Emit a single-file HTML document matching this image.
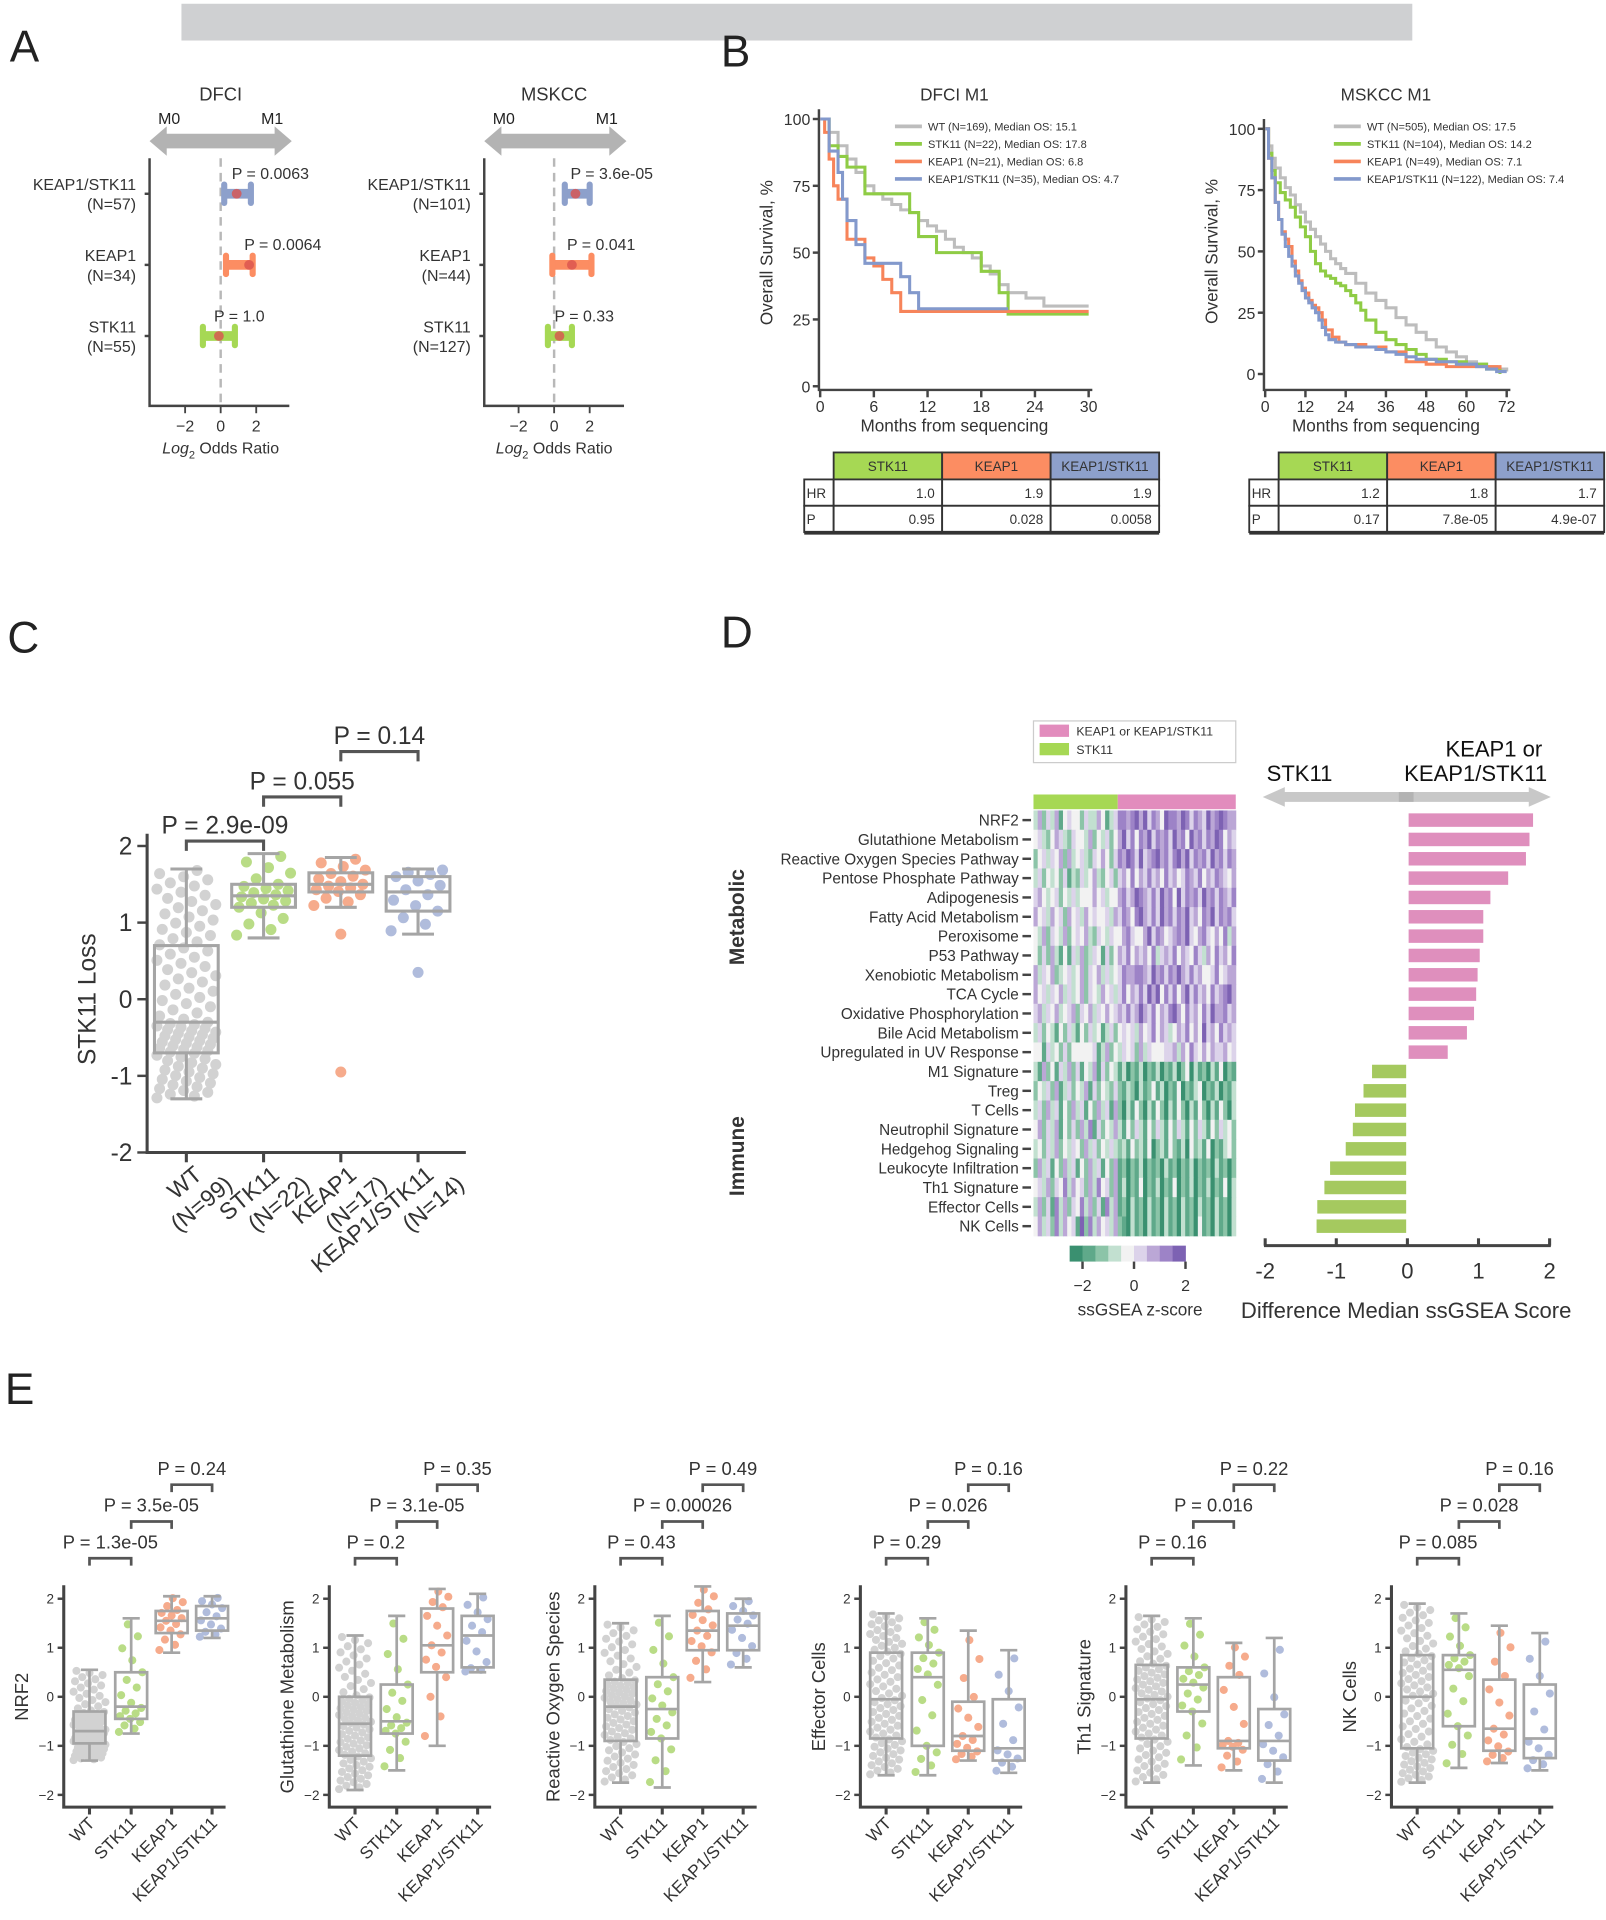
<!DOCTYPE html>
<html><head><meta charset="utf-8">
<style>
html,body{margin:0;padding:0;background:#fff;}
svg{display:block;font-family:"Liberation Sans",Arial,sans-serif;}
</style></head>
<body>
<svg id="fig" width="1606" height="1920" viewBox="0 0 1310 1566" xmlns="http://www.w3.org/2000/svg">
<rect x="0" y="0" width="1310" height="1566" fill="#fff"/>
<rect x="148" y="3" width="1004" height="30" fill="#cfd0d2"/>
<text x="8" y="50" font-size="36" fill="#222">A</text>
<text x="588" y="54" font-size="36" fill="#222">B</text>
<text x="6" y="532" font-size="36" fill="#222">C</text>
<text x="588" y="528" font-size="36" fill="#222">D</text>
<text x="4" y="1145" font-size="36" fill="#222">E</text>
</svg>
<script>
// ---------- DATA ----------
const forestRows=['KEAP1/STK11','KEAP1','STK11'];
const dfciN=['(N=57)','(N=34)','(N=55)'];
const dfciLo=[0.2,0.3,-1.0];
const dfciEst=[0.9,1.6,-0.1];
const dfciHi=[1.7,1.8,0.8];
const dfciP=['P = 0.0063','P = 0.0064','P = 1.0'];
const mskN=['(N=101)','(N=44)','(N=127)'];
const mskLo=[0.6,-0.1,-0.35];
const mskEst=[1.2,1.0,0.3];
const mskHi=[2.0,2.1,1.0];
const mskP=['P = 3.6e-05','P = 0.041','P = 0.33'];

const kmGroups=['WT','STK11','KEAP1','KEAP1/STK11'];
const dfciLegend=['WT (N=169), Median OS: 15.1','STK11 (N=22), Median OS: 17.8','KEAP1 (N=21), Median OS: 6.8','KEAP1/STK11 (N=35), Median OS: 4.7'];
const mskLegend=['WT (N=505), Median OS: 17.5','STK11 (N=104), Median OS: 14.2','KEAP1 (N=49), Median OS: 7.1','KEAP1/STK11 (N=122), Median OS: 7.4'];
const dfciWT_t=[0,1,2,3,4,5,6,7,8,9,10,11,12,13,14,15,16,17,18,19,20,21,23,25,30];
const dfciWT_s=[100,95,90,85,80,75,72,70,68,66,65,62,60,58,55,52,50,48,45,42,38,35,33,30,30];
const dfciS_t=[0,1,2,3,5,8,10,11,13,17,18,20,21,30];
const dfciS_s=[100,90,86,82,72,72,65,56,50,50,43,35,27,27];
const dfciK_t=[0,0.5,1,1.5,2,3,5,6,7,8,9,30];
const dfciK_s=[100,95,85,75,70,55,48,45,40,35,28,28];
const dfciKS_t=[0,1,2,2.5,3,4,5,8,9,10,11,21];
const dfciKS_s=[100,88,80,70,62,53,46,46,41,35,29,29];
const mskWT_t=[0,1,2,3,4.5,6,7.5,9,10.5,12,13.5,15,16.5,18,19.5,21,22.5,24,27,30,33,36,39,42,45,48,51,54,57,60,63,66,69,72];
const mskWT_s=[100,93,88,84,80,76,73,69,66,62,59,56,53,50,47,45,43,41,37,33,30,27,23,20,17,14,11,9,7,5,4,3,2,1];
const mskS_t=[0,1,2,3,4.5,6,7.5,9,10.5,12,13.5,15,16.5,18,19.5,21,22.5,24,25.5,27,28.5,30,33,36,39,42,45,48,54,60,66,70];
const mskS_s=[100,90,83,78,74,71,68,64,60,56,50,45,42,40,39,37,36,34,32,29,26,22,17,14,12,10,8,6,5,4,2,0];
const mskK_t=[0,1,2,3,4,5,6,7,8,9,10,11,12,13,14,15,16,17,18,20,22,24,30,36,42,48,54,60,66,70];
const mskK_s=[100,88,80,70,63,58,55,52,46,42,38,35,33,30,28,27,25,22,18,15,13,12,11,9,5,4,3,3,3,2];
const mskKS_t=[0,1,2,3,4,5,6,7,8,9,10,11,12,13,14,15,16,17,18,19,21,24,27,30,33,36,39,42,45,48,51,54,57,60,63,66,69,72];
const mskKS_s=[100,88,80,70,63,57,52,48,44,40,37,34,31,29,27,25,22,19,16,14,13,12,11,11,10,9,8,7,6,6,5,5,4,4,3,2,1,1];
const dfciHR=['1.0','1.9','1.9'];
const dfciPv=['0.95','0.028','0.0058'];
const mskHR=['1.2','1.8','1.7'];
const mskPv=['0.17','7.8e-05','4.9e-07'];

const cCats=['WT','STK11','KEAP1','KEAP1/STK11'];
const cN=['(N=99)','(N=22)','(N=17)','(N=14)'];
const cCount=[99,22,17,14];
const cLo=[-1.3,0.8,1.2,0.85];
const cQ1=[-0.7,1.2,1.4,1.15];
const cMed=[-0.3,1.35,1.5,1.4];
const cQ3=[0.7,1.5,1.65,1.6];
const cHi=[1.7,1.9,1.85,1.7];
const cOutliers=[[],[],[-0.95,0.85],[0.35]];
const cP=['P = 2.9e-09','P = 0.055','P = 0.14'];

const dRows=['NRF2','Glutathione Metabolism','Reactive Oxygen Species Pathway','Pentose Phosphate Pathway','Adipogenesis','Fatty Acid Metabolism','Peroxisome','P53 Pathway','Xenobiotic Metabolism','TCA Cycle','Oxidative Phosphorylation','Bile Acid Metabolism','Upregulated in UV Response','M1 Signature','Treg','T Cells','Neutrophil Signature','Hedgehog Signaling','Leukocyte Infiltration','Th1 Signature','Effector Cells','NK Cells'];
const dDiff=[1.75,1.7,1.65,1.4,1.15,1.05,1.05,1.0,0.97,0.95,0.92,0.82,0.55,-0.48,-0.6,-0.72,-0.75,-0.85,-1.07,-1.15,-1.25,-1.26];
const heatRows=[
"362536145442533641357767868576487768757658678766",
"453246532544362435246857476857675867486757687465",
"245354626345325464257687585678675786857675867576",
"352434251325346324525647465756475645765746576546",
"564345243534446453446756876575867485767586757657",
"645364526453645445365764786575867576856476857675",
"436254362454632543544675446857645676854675464736",
"425263141536235415246574656473565746547536475647",
"635462345346254635345766776586757686575644574566",
"645354635346254364535746575868475746857564756786",
"563546345625463546456575686574657864756475866756",
"352431425314253413524545364574653465746485647565",
"441534252444445136243545263544455636475464655645",
"316241536251436152431302130213021302403120314021",
"243526135243615243252132031241302140213402130213",
"352635142635142635162031420314203142031420314203",
"462536142526371524363142531425314253142531425342",
"342536243542635243532314231402314213042314021342",
"263514263514263514261202130212031202130212031202",
"453625473645263745261302140213021402130213021403",
"362517362547362517361203120312031203120312031203",
"463527364518273645362103120312031203120412031203"];
const heatSplit=20;

const eCats=['WT','STK11','KEAP1','KEAP1/STK11'];
const eCount=[80,18,15,12];
const eTitles=['NRF2','Glutathione Metabolism','Reactive Oxygen Species','Effector Cells','Th1 Signature','NK Cells'];
const eLo=[[-1.3,-0.75,0.9,1.2],[-1.9,-1.5,-1.0,0.5],[-1.75,-1.85,0.3,0.6],[-1.6,-1.6,-1.3,-1.55],[-1.75,-1.4,-1.5,-1.75],[-1.75,-1.45,-1.35,-1.5]];
const eQ1=[[-0.95,-0.45,1.3,1.35],[-1.2,-0.75,0.5,0.6],[-0.9,-0.85,0.95,0.95],[-0.85,-1.0,-1.1,-1.3],[-0.85,-0.3,-1.05,-1.3],[-1.05,-0.6,-1.1,-1.25]];
const eMed=[[-0.7,-0.2,1.55,1.6],[-0.55,-0.5,1.05,1.25],[-0.2,-0.25,1.35,1.45],[-0.05,0.4,-0.8,-1.05],[-0.05,0.25,-0.9,-0.9],[0,0.55,-0.65,-0.85]];
const eQ3=[[-0.3,0.5,1.75,1.85],[0.0,0.25,1.8,1.65],[0.35,0.4,1.75,1.7],[0.9,0.9,-0.1,-0.05],[0.65,0.6,0.4,-0.25],[0.85,0.85,0.35,0.25]];
const eHi=[[0.55,1.6,2.05,2.05],[1.25,1.65,2.2,2.1],[1.5,1.65,2.25,2.0],[1.7,1.6,1.35,0.95],[1.65,1.6,1.1,1.2],[1.9,1.7,1.45,1.3]];
const eP=[['P = 1.3e-05','P = 3.5e-05','P = 0.24'],['P = 0.2','P = 3.1e-05','P = 0.35'],['P = 0.43','P = 0.00026','P = 0.49'],['P = 0.29','P = 0.026','P = 0.16'],['P = 0.16','P = 0.016','P = 0.22'],['P = 0.085','P = 0.028','P = 0.16']];

// ---------- HELPERS ----------
const NS='http://www.w3.org/2000/svg';
const svg=document.getElementById('fig');
function mk(tag,attrs,parent){const e=document.createElementNS(NS,tag);for(const k in attrs)e.setAttribute(k,attrs[k]);(parent||svg).appendChild(e);return e;}
function txt(x,y,s,size,anchor,extra){const e=mk('text',Object.assign({x:x,y:y,'font-size':size,'text-anchor':anchor||'start',fill:'#333'},extra||{}));e.textContent=s;return e;}
const AX='#444';
const grpCol=['#bdbdbd','#a6d854','#fc8d62','#8da0cb'];
const kmCol=['#bdbdbd','#8fcc45','#f7845a','#8399cc'];
const dotCol=['#d2d2d2','#b9dc86','#f6ab8c','#b0bcdc'];
function quant(p,lo,q1,md,q3,hi){const xs=[0,0.25,0.5,0.75,1],ys=[lo,q1,md,q3,hi];for(let i=0;i<4;i++){if(p<=xs[i+1]){const f=(p-xs[i])/(xs[i+1]-xs[i]);return ys[i]+f*(ys[i+1]-ys[i]);}}return hi;}

// ---------- PANEL A: forest ----------
function forest(ax0,zeroX,title,ns,lo,est,hi,ps,key){
  const sx=v=>zeroX+v*14.5;
  let e;
  e=txt(zeroX,82,title,15,'middle');
  
  
  e=txt(ax0+16,101,'M0',13,'middle',{fill:'#222'});
  
  
  e=txt(ax0+100,101,'M1',13,'middle',{fill:'#222'});
  
  
  e=mk('path',{d:`M${ax0} 115 L${ax0+14} 103 L${ax0+14} 109 L${ax0+102} 109 L${ax0+102} 103 L${ax0+116} 115 L${ax0+102} 127 L${ax0+102} 121 L${ax0+14} 121 L${ax0+14} 127 Z`,fill:'#b3b3b3'});
  
  
  e=mk('path',{d:`M${ax0} 129 V331 H${ax0+114}`,fill:'none',stroke:AX,'stroke-width':2});
  
  
  e=mk('line',{x1:zeroX,y1:129,x2:zeroX,y2:331,stroke:'#b8b8b8','stroke-width':2,'stroke-dasharray':'7,5'});
  
  
  [-2,0,2].forEach(v=>{
    const t=mk('line',{x1:sx(v),y1:331,x2:sx(v),y2:337,stroke:AX,'stroke-width':1.5});
    
    
    const l=txt(sx(v),352,v<0?'−'+Math.abs(v):String(v),13,'middle');
    
    
  });
  e=mk('text',{x:zeroX,y:370,'font-size':13,'text-anchor':'middle',fill:'#333'});
  e.innerHTML='<tspan font-style="italic">Log</tspan><tspan font-size="9" dy="4">2</tspan><tspan dy="-4"> Odds Ratio</tspan>';
  
  
  const rowY=[158,216,274];
  const cols=[grpCol[3],grpCol[2],grpCol[1]];
  forestRows.forEach((r,i)=>{
    const y=rowY[i];
    let a=txt(ax0-11,y-3,r,13,'end');
    
    
    a=txt(ax0-11,y+13,ns[i],13,'end');
    
    
    a=mk('line',{x1:ax0-4,y1:y,x2:ax0,y2:y,stroke:AX,'stroke-width':2});
    
    
    a=mk('line',{x1:sx(lo[i]),y1:y,x2:sx(hi[i]),y2:y,stroke:cols[i],'stroke-width':8});
    
    
    [lo[i],hi[i]].forEach(v=>{
      const c=mk('rect',{x:sx(v)-2.5,y:y-10,width:5,height:20,rx:2.5,fill:cols[i]});
      
      
    });
    a=mk('circle',{cx:sx(est[i]),cy:y,r:4,fill:'#d9534f','fill-opacity':0.8});
    
    
    a=txt(sx(est[i])-4,y-12,ps[i],13,'start');
    
    
  });
}
forest(122,180,'DFCI',dfciN,dfciLo,dfciEst,dfciHi,dfciP,'dfci-forest');
forest(395,452,'MSKCC',mskN,mskLo,mskEst,mskHi,mskP,'mskcc-forest');

// ---------- PANEL B: KM ----------
function km(key,title,axX,x0,x1,xmax,step,yTop,yBot,legend,ts,ss,legX){
  const sx=t=>x0+(x1-x0)*t/xmax;
  const sy=s=>yBot-(yBot-yTop)*s/100;
  let e;
  e=txt((x0+x1)/2,82,title,14,'middle');
  
  
  e=mk('path',{d:`M${axX} ${yTop-8} V318 H${x1+3}`,fill:'none',stroke:AX,'stroke-width':2});
  
  
  [0,25,50,75,100].forEach(v=>{
    const t=mk('line',{x1:axX-5,y1:sy(v),x2:axX,y2:sy(v),stroke:AX,'stroke-width':2});
    
    
    const l=txt(axX-7,sy(v)+5,String(v),13,'end');
    
    
  });
  for(let v=0;v<=xmax;v+=step){
    const t=mk('line',{x1:sx(v),y1:318,x2:sx(v),y2:324,stroke:AX,'stroke-width':2});
    
    
    const l=txt(sx(v),336,String(v),13,'middle');
    
    
  }
  e=txt((x0+x1)/2,352,'Months from sequencing',14,'middle');
  
  
  e=txt(0,0,'Overall Survival, %',14,'middle',{transform:`translate(${axX-38},${(yTop+yBot)/2}) rotate(-90)`});
  
  
  ts.forEach((t,g)=>{
    let d=`M${sx(t[0])} ${sy(ss[g][0])}`;
    for(let i=1;i<t.length;i++){d+=` H${sx(t[i])} V${sy(ss[g][i])}`;}
    const p=mk('path',{d:d,fill:'none',stroke:kmCol[g],'stroke-width':2.5});
    
    
  });
  legend.forEach((s,g)=>{
    const y=103+g*14.3;
    const l=mk('line',{x1:legX,y1:y,x2:legX+22,y2:y,stroke:kmCol[g],'stroke-width':3});
    
    
    const t=txt(legX+27,y+3.5,s,9,'start');
    
    
  });
}
km('dfci-km','DFCI M1',668,669,888,30,6,97,315,dfciLegend,[dfciWT_t,dfciS_t,dfciK_t,dfciKS_t],[dfciWT_s,dfciS_s,dfciK_s,dfciKS_s],730);
km('mskcc-km','MSKCC M1',1031,1032,1229,72,12,105,305,mskLegend,[mskWT_t,mskS_t,mskK_t,mskKS_t],[mskWT_s,mskS_s,mskK_s,mskKS_s],1088);

function hrTable(key,x0,hr,pv){
  const cw=88.5,c0=x0+24;
  const heads=['STK11','KEAP1','KEAP1/STK11'];
  let e;
  heads.forEach((h,i)=>{
    e=mk('rect',{x:c0+i*cw,y:369,width:cw,height:22,fill:grpCol[i+1],stroke:'#333','stroke-width':1.5});
    
    
    e=txt(c0+i*cw+cw/2,384,h,11,'middle');
    
    
  });
  [['HR',hr],['P',pv]].forEach((row,r)=>{
    const y=391+r*21.5;
    e=mk('rect',{x:x0,y:y,width:24,height:21.5,fill:'#fff',stroke:'#333','stroke-width':1.5});
    
    
    e=txt(x0+2,y+15,row[0],11,'start');
    
    
    row[1].forEach((v,i)=>{
      const c=mk('rect',{x:c0+i*cw,y:y,width:cw,height:21.5,fill:'#fff',stroke:'#333','stroke-width':1.5});
      
      
      const t=txt(c0+(i+1)*cw-6,y+15,v,11,'end');
      
      
    });
  });
  e=mk('path',{d:`M${x0} 434.5 H${c0+3*cw}`,stroke:'#333','stroke-width':3});
  
  
}
hrTable('dfci-hr-table',656,dfciHR,dfciPv);
hrTable('mskcc-hr-table',1019,mskHR,mskPv);

// ---------- PANEL C ----------
(function(){
  const key='stk11-loss';
  const ax=120, cx=[152,215,278,341];
  const sy=v=>815-62.5*v;
  let e;
  e=mk('path',{d:`M${ax} 680 V940 H380`,fill:'none',stroke:AX,'stroke-width':2.5});
  
  
  [-2,-1,0,1,2].forEach(v=>{
    const t=mk('line',{x1:ax-8,y1:sy(v),x2:ax,y2:sy(v),stroke:AX,'stroke-width':2});
    
    
    const l=txt(ax-12,sy(v)+7,String(v),20,'end');
    
    
  });
  e=txt(0,0,'STK11 Loss',20,'middle',{transform:`translate(78,${sy(0)}) rotate(-90)`});
  
  
  cCats.forEach((c,i)=>{
    const t=mk('line',{x1:cx[i],y1:940,x2:cx[i],y2:948,stroke:AX,'stroke-width':2.5});
    
    
    const g=mk('text',{'font-size':19,'text-anchor':'end',fill:'#333',transform:`translate(${cx[i]+14},${960}) rotate(-40)`});
    g.innerHTML=`<tspan x="0" dy="0">${c}</tspan><tspan x="14" dy="22">${cN[i]}</tspan>`;
    
    
    const n=cCount[i], hw=i===0?24:22;
    for(let k=0;k<n;k++){
      const v=quant((k+0.5)/n,cLo[i],cQ1[i],cMed[i],cQ3[i],cHi[i]);
      const off=(((k*37)%23)-11)/11*hw;
      const d=mk('circle',{cx:cx[i]+off,cy:sy(v),r:4.5,fill:dotCol[i]});
      
      
    }
    cOutliers[i].forEach(v=>{
      const d=mk('circle',{cx:cx[i],cy:sy(v),r:4.5,fill:dotCol[i]});
      
      
    });
    const bw=26;
    const w=mk('path',{d:`M${cx[i]} ${sy(cHi[i])} V${sy(cQ3[i])} M${cx[i]} ${sy(cQ1[i])} V${sy(cLo[i])} M${cx[i]-13} ${sy(cHi[i])} H${cx[i]+13} M${cx[i]-13} ${sy(cLo[i])} H${cx[i]+13}`,stroke:'#a5a5a5','stroke-width':2.5,fill:'none'});
    
    
    const b=mk('rect',{x:cx[i]-bw,y:sy(cQ3[i]),width:2*bw,height:sy(cQ1[i])-sy(cQ3[i]),fill:'none',stroke:'#a5a5a5','stroke-width':2.5});
    
    
    const m=mk('line',{x1:cx[i]-bw,y1:sy(cMed[i]),x2:cx[i]+bw,y2:sy(cMed[i]),stroke:'#a5a5a5','stroke-width':2.5});
    
    
  });
  const by=[686,650,613];
  cP.forEach((p,i)=>{
    const br=mk('path',{d:`M${cx[i]} ${by[i]+8} V${by[i]} H${cx[i+1]} V${by[i]+8}`,fill:'none',stroke:'#555','stroke-width':2.5});
    
    
    const t=txt((cx[i]+cx[i+1])/2,by[i]-6,p,20,'middle');
    
    
  });
})();

// ---------- PANEL D ----------
(function(){
  const key='ssgsea';
  const hx=843,hw=165,top=661,rh=(1008-661)/dRows.length;
  const cmap=['#3a9070','#5fa98a','#8cc4a8','#c2e0d0','#f2f2f2','#dcd3ea','#bba7d6','#9d83c7','#7d62b3'];
  let e;
  e=mk('rect',{x:843,y:588,width:165,height:34,fill:'#fff',stroke:'#ccc','stroke-width':1});
  
  
  e=mk('rect',{x:848,y:591,width:24,height:10,fill:'#e28cbd'});
  
  
  e=txt(878,600,'KEAP1 or KEAP1/STK11',10,'start');
  
  
  e=mk('rect',{x:848,y:606,width:24,height:10,fill:'#a6d854'});
  
  
  e=txt(878,615,'STK11',10,'start');
  
  
  const ncol=heatRows[0].length, cw=hw/ncol;
  e=mk('rect',{x:hx,y:648,width:heatSplit*cw,height:12,fill:'#a6d854'});
  
  
  e=mk('rect',{x:hx+heatSplit*cw,y:648,width:hw-heatSplit*cw,height:12,fill:'#e28cbd'});
  
  
  heatRows.forEach((row,r)=>{
    const w=hw/row.length;
    for(let c=0;c<row.length;c++){
      const cell=mk('rect',{x:hx+c*w,y:top+r*rh,width:w+0.4,height:rh+0.4,fill:cmap[+row[c]]});
      
      
    }
  });
  dRows.forEach((s,r)=>{
    const y=top+(r+0.5)*rh;
    const t=txt(831,y+4.5,s,12.5,'end');
    
    
    const tk=mk('line',{x1:834,y1:y,x2:841,y2:y,stroke:AX,'stroke-width':2});
    
    
  });
  e=txt(0,0,'Metabolic',17,'middle',{'font-weight':'bold',transform:`translate(607,748) rotate(-90)`});
  
  
  e=txt(0,0,'Immune',17,'middle',{'font-weight':'bold',transform:`translate(607,943) rotate(-90)`});
  
  
  const cbv=[-2.25,-1.75,-1.25,-0.75,-0.25,0.25,0.75,1.25,1.75];
  const cbx=v=>925+v*21;
  cbv.forEach((v,i)=>{
    const c=mk('rect',{x:cbx(v-0.25),y:1016,width:10.8,height:13,fill:cmap[i]});
    
    
  });
  [-2,0,2].forEach(v=>{
    const t=mk('line',{x1:cbx(v),y1:1029,x2:cbx(v),y2:1035,stroke:AX,'stroke-width':2});
    
    
    const l=txt(cbx(v),1053,v<0?'−2':String(v),13,'middle');
    
    
  });
  e=txt(930,1073,'ssGSEA z-score',14,'middle');
  
  
  const sx=v=>1148+58*v;
  e=mk('path',{d:`M1030 650 L1048 642 L1048 646 L1247 646 L1247 642 L1265 650 L1247 658 L1247 654 L1048 654 L1048 658 Z`,fill:'#c8c8c8'});
  
  
  e=mk('rect',{x:1141,y:646,width:12,height:8,fill:'#b3b3b3'});
  
  
  e=txt(1060,637,'STK11',18,'middle',{fill:'#111'});
  
  
  e=txt(1258,617,'KEAP1 or',18,'end',{fill:'#111'});
  
  
  e=txt(1262,637,'KEAP1/STK11',18,'end',{fill:'#111'});
  
  
  dDiff.forEach((v,r)=>{
    const y=top+(r+0.5)*rh;
    const b=mk('rect',{x:Math.min(sx(0),sx(v))+(v>0?1:-1),y:y-5.5,width:Math.abs(sx(v)-sx(0)),height:11,fill:v>0?'#df8fbd':'#a5c95f'});
    
    
  });
  e=mk('line',{x1:1031,y1:1016,x2:1265,y2:1016,stroke:AX,'stroke-width':2.5});
  
  
  [-2,-1,0,1,2].forEach(v=>{
    const t=mk('line',{x1:sx(v),y1:1010,x2:sx(v),y2:1016,stroke:AX,'stroke-width':2.5});
    
    
    const l=txt(sx(v),1043,v<0?'-'+Math.abs(v):String(v),18,'middle');
    
    
  });
  e=txt(1147,1075,'Difference Median ssGSEA Score',18,'middle');
  
  
})();

// ---------- PANEL E ----------
eTitles.forEach((title,p)=>{
  const off=p*216.6;
  const key='panel-e-'+title.toLowerCase().replace(/ /g,'-');
  const ax=52+off, cx=[73,107,140,173].map(v=>v+off);
  const sy=v=>1384-40*v;
  let e;
  e=mk('path',{d:`M${ax} 1293 V1474 H${ax+132}`,fill:'none',stroke:AX,'stroke-width':2.5});
  
  
  [-2,-1,0,1,2].forEach(v=>{
    const t=mk('line',{x1:ax-5,y1:sy(v),x2:ax,y2:sy(v),stroke:AX,'stroke-width':2});
    
    
    const l=txt(ax-8,sy(v)+4,v<0?'−'+Math.abs(v):String(v),11,'end');
    
    
  });
  e=txt(0,0,title,15,'middle',{transform:`translate(${ax-29},1384) rotate(-90)`});
  
  
  eCats.forEach((c,i)=>{
    const t=mk('line',{x1:cx[i],y1:1474,x2:cx[i],y2:1480,stroke:AX,'stroke-width':2.5});
    
    
    const l=txt(0,0,c,14,'end',{transform:`translate(${cx[i]+5},${1488}) rotate(-45)`});
    
    
    const n=eCount[i], hw=i===0?13:10;
    for(let k=0;k<n;k++){
      const v=quant((k+0.5)/n,eLo[p][i],eQ1[p][i],eMed[p][i],eQ3[p][i],eHi[p][i]);
      const o=(((k*37)%23)-11)/11*hw;
      const d=mk('circle',{cx:cx[i]+o,cy:sy(v),r:3.3,fill:dotCol[i]});
      
      
    }
    const bw=13;
    const w=mk('path',{d:`M${cx[i]} ${sy(eHi[p][i])} V${sy(eQ3[p][i])} M${cx[i]} ${sy(eQ1[p][i])} V${sy(eLo[p][i])} M${cx[i]-7} ${sy(eHi[p][i])} H${cx[i]+7} M${cx[i]-7} ${sy(eLo[p][i])} H${cx[i]+7}`,stroke:'#a5a5a5','stroke-width':2.2,fill:'none'});
    
    
    const b=mk('rect',{x:cx[i]-bw,y:sy(eQ3[p][i]),width:2*bw,height:sy(eQ1[p][i])-sy(eQ3[p][i]),fill:'none',stroke:'#a5a5a5','stroke-width':2.2});
    
    
    const m=mk('line',{x1:cx[i]-bw,y1:sy(eMed[p][i]),x2:cx[i]+bw,y2:sy(eMed[p][i]),stroke:'#a5a5a5','stroke-width':2.2});
    
    
  });
  const by=[1271,1241,1211];
  eP[p].forEach((s,i)=>{
    const br=mk('path',{d:`M${cx[i]} ${by[i]+6} V${by[i]} H${cx[i+1]} V${by[i]+6}`,fill:'none',stroke:'#555','stroke-width':2.2});
    
    
    const t=txt((cx[i]+cx[i+1])/2,by[i]-8,s,15,'middle');
    
    
  });
});
</script>
</body></html>
